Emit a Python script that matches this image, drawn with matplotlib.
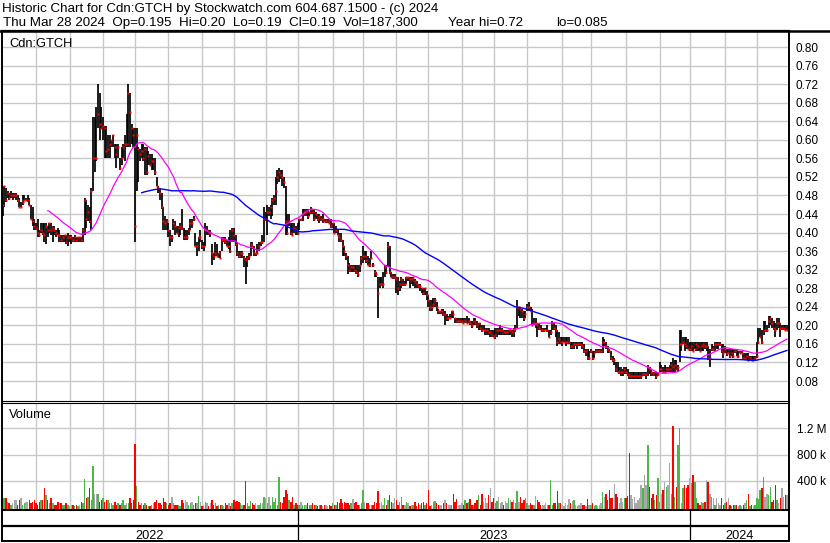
import matplotlib
matplotlib.use('Agg')
import matplotlib.pyplot as plt
from matplotlib.lines import Line2D
import numpy as np
import pandas as pd

plt.rcParams['font.family'] = ['Liberation Sans', 'DejaVu Sans']

# ---- data (one entry per trading bar) ----
title_line1 = 'Historic Chart for Cdn:GTCH by Stockwatch.com 604.687.1500 - (c) 2024'
quote_fields = ['Thu Mar 28 2024  Op=0.195  Hi=0.20  Lo=0.19  Cl=0.19  Vol=187,300',
                'Year hi=0.72', 'lo=0.085']
symbol = 'Cdn:GTCH'

high = [
    # Mar - Aug 2022
    0.465, 0.50, 0.495, 0.49, 0.485, 0.49, 0.485, 0.485, 0.485, 0.48,
    0.475, 0.465, 0.48, 0.48, 0.475, 0.48, 0.475, 0.46, 0.455, 0.43,
    0.42, 0.43, 0.405, 0.42, 0.42, 0.42, 0.42, 0.415, 0.42, 0.42,
    0.415, 0.415, 0.405, 0.41, 0.405, 0.395, 0.395, 0.395, 0.395, 0.40,
    0.395, 0.395, 0.39, 0.395, 0.39, 0.39, 0.39, 0.39, 0.41, 0.475,
    0.47, 0.46, 0.455, 0.495, 0.65, 0.65, 0.67, 0.72, 0.70, 0.67,
    0.65, 0.63, 0.63, 0.61, 0.61, 0.60, 0.61, 0.59, 0.59, 0.59,
    0.56, 0.585, 0.59, 0.61, 0.655, 0.72, 0.70, 0.635, 0.625,
    # Aug - Dec 2022
    0.625, 0.625, 0.585, 0.58, 0.59, 0.59, 0.585, 0.585, 0.575, 0.57,
    0.57, 0.56, 0.56, 0.52, 0.50, 0.495, 0.485, 0.455, 0.435, 0.43,
    0.42, 0.405, 0.395, 0.43, 0.425, 0.415, 0.415, 0.42, 0.45, 0.41,
    0.405, 0.405, 0.41, 0.43, 0.43, 0.435, 0.40, 0.38, 0.39, 0.405,
    0.385, 0.38, 0.42, 0.415, 0.405, 0.405, 0.375, 0.355, 0.38, 0.375,
    0.355, 0.36, 0.39, 0.39, 0.39, 0.385, 0.39, 0.405, 0.41, 0.41,
    0.395, 0.38, 0.36, 0.36, 0.36, 0.35, 0.345, 0.35, 0.355, 0.38,
    0.38, 0.37, 0.355, 0.375, 0.38, 0.38, 0.395, 0.455, 0.445, 0.46,
    # Dec 2022 - Apr 2023
    0.455, 0.46, 0.475, 0.48, 0.52, 0.535, 0.54, 0.535, 0.535, 0.52,
    0.50, 0.44, 0.44, 0.42, 0.42, 0.42, 0.415, 0.42, 0.43, 0.43,
    0.45, 0.45, 0.45, 0.45, 0.445, 0.455, 0.45, 0.45, 0.445, 0.44,
    0.44, 0.435, 0.44, 0.43, 0.43, 0.43, 0.43, 0.43, 0.42, 0.42,
    0.415, 0.405, 0.40, 0.40, 0.385, 0.37, 0.355, 0.35, 0.335, 0.33,
    0.33, 0.33, 0.33, 0.33, 0.33, 0.35, 0.37, 0.36, 0.36, 0.35,
    0.345, 0.36, 0.335, 0.32, 0.315, 0.305, 0.305, 0.305, 0.315, 0.33,
    0.33, 0.38, 0.37, 0.315, 0.31, 0.31, 0.305,
    # Apr - Aug 2023
    0.305, 0.295, 0.305, 0.30, 0.295, 0.305, 0.305, 0.305, 0.305, 0.305,
    0.30, 0.295, 0.29, 0.29, 0.28, 0.28, 0.28, 0.275, 0.265, 0.255,
    0.255, 0.26, 0.26, 0.25, 0.235, 0.23, 0.235, 0.235, 0.23, 0.225,
    0.22, 0.225, 0.23, 0.23, 0.215, 0.215, 0.215, 0.215, 0.215, 0.215,
    0.215, 0.22, 0.215, 0.21, 0.21, 0.215, 0.215, 0.21, 0.205, 0.205,
    0.20, 0.20, 0.195, 0.195, 0.195, 0.19, 0.19, 0.19, 0.195, 0.195,
    0.195, 0.20, 0.195, 0.19, 0.19, 0.19, 0.19, 0.19, 0.19, 0.195,
    0.20, 0.255, 0.24, 0.24, 0.235, 0.23, 0.23,
    # Aug - Dec 2023
    0.245, 0.25, 0.24, 0.235, 0.215, 0.215, 0.205, 0.205, 0.20, 0.195,
    0.195, 0.195, 0.20, 0.19, 0.19, 0.21, 0.205, 0.20, 0.19, 0.185,
    0.175, 0.175, 0.175, 0.175, 0.175, 0.175, 0.165, 0.165, 0.165, 0.165,
    0.165, 0.165, 0.165, 0.165, 0.16, 0.15, 0.15, 0.145, 0.15, 0.145,
    0.145, 0.15, 0.15, 0.15, 0.15, 0.175, 0.17, 0.165, 0.155, 0.15,
    0.145, 0.135, 0.13, 0.12, 0.12, 0.11, 0.11, 0.105, 0.11, 0.11,
    0.105, 0.10, 0.10, 0.10, 0.10, 0.10, 0.10, 0.10, 0.10, 0.10,
    0.10, 0.10, 0.115, 0.11, 0.105, 0.10, 0.10,
    # Dec 2023 - Mar 2024
    0.10, 0.10, 0.12, 0.115, 0.11, 0.115, 0.11, 0.11, 0.115, 0.12,
    0.13, 0.125, 0.125, 0.115, 0.19, 0.19, 0.175, 0.175, 0.175, 0.17,
    0.165, 0.165, 0.165, 0.165, 0.165, 0.165, 0.165, 0.165, 0.165, 0.165,
    0.165, 0.155, 0.15, 0.16, 0.155, 0.165, 0.165, 0.165, 0.165, 0.16,
    0.16, 0.155, 0.15, 0.15, 0.15, 0.15, 0.15, 0.15, 0.15, 0.145,
    0.145, 0.145, 0.14, 0.14, 0.14, 0.14, 0.135, 0.135, 0.135, 0.135,
    0.165, 0.195, 0.195, 0.19, 0.21, 0.21, 0.20, 0.22, 0.22, 0.215,
    0.21, 0.205, 0.215, 0.215, 0.205, 0.20, 0.20, 0.20, 0.20,
]

low = [
    0.435, 0.455, 0.465, 0.475, 0.47, 0.475, 0.47, 0.475, 0.47, 0.465,
    0.455, 0.455, 0.46, 0.47, 0.47, 0.465, 0.46, 0.43, 0.415, 0.405,
    0.405, 0.39, 0.39, 0.40, 0.395, 0.38, 0.375, 0.39, 0.40, 0.395,
    0.38, 0.395, 0.39, 0.395, 0.38, 0.38, 0.38, 0.38, 0.375, 0.37,
    0.38, 0.375, 0.38, 0.38, 0.38, 0.38, 0.38, 0.38, 0.38, 0.395,
    0.41, 0.425, 0.42, 0.405, 0.49, 0.53, 0.555, 0.625, 0.60, 0.625,
    0.60, 0.56, 0.56, 0.56, 0.56, 0.585, 0.585, 0.56, 0.54, 0.56,
    0.535, 0.545, 0.56, 0.555, 0.585, 0.585, 0.585, 0.59, 0.585,

    0.38, 0.49, 0.51, 0.555, 0.56, 0.555, 0.525, 0.525, 0.545, 0.545,
    0.535, 0.535, 0.525, 0.50, 0.485, 0.47, 0.45, 0.405, 0.405, 0.405,
    0.39, 0.37, 0.38, 0.405, 0.395, 0.40, 0.39, 0.395, 0.405, 0.385,
    0.385, 0.385, 0.395, 0.405, 0.41, 0.425, 0.37, 0.35, 0.36, 0.38,
    0.365, 0.36, 0.37, 0.395, 0.395, 0.39, 0.33, 0.34, 0.35, 0.35,
    0.345, 0.345, 0.36, 0.38, 0.375, 0.37, 0.365, 0.355, 0.38, 0.38,
    0.37, 0.35, 0.345, 0.345, 0.345, 0.325, 0.29, 0.325, 0.34, 0.35,
    0.365, 0.35, 0.35, 0.355, 0.36, 0.37, 0.375, 0.38, 0.425, 0.395,

    0.435, 0.43, 0.435, 0.46, 0.46, 0.505, 0.51, 0.515, 0.50, 0.495,
    0.395, 0.395, 0.415, 0.395, 0.395, 0.40, 0.395, 0.395, 0.405, 0.425,
    0.425, 0.435, 0.435, 0.43, 0.435, 0.44, 0.44, 0.425, 0.43, 0.425,
    0.42, 0.425, 0.42, 0.425, 0.42, 0.42, 0.42, 0.41, 0.41, 0.40,
    0.40, 0.395, 0.38, 0.38, 0.35, 0.35, 0.34, 0.31, 0.315, 0.315,
    0.315, 0.315, 0.31, 0.305, 0.315, 0.33, 0.335, 0.34, 0.335, 0.33,
    0.325, 0.345, 0.325, 0.305, 0.305, 0.215, 0.28, 0.285, 0.28, 0.305,
    0.31, 0.325, 0.31, 0.305, 0.30, 0.30, 0.27,

    0.265, 0.275, 0.28, 0.285, 0.285, 0.29, 0.295, 0.28, 0.29, 0.285,
    0.28, 0.28, 0.28, 0.275, 0.27, 0.265, 0.265, 0.255, 0.24, 0.23,
    0.23, 0.24, 0.24, 0.23, 0.225, 0.225, 0.225, 0.22, 0.20, 0.21,
    0.21, 0.215, 0.215, 0.215, 0.205, 0.205, 0.205, 0.205, 0.205, 0.205,
    0.205, 0.205, 0.205, 0.20, 0.195, 0.20, 0.20, 0.195, 0.19, 0.19,
    0.185, 0.19, 0.18, 0.18, 0.18, 0.175, 0.175, 0.175, 0.17, 0.175,
    0.18, 0.18, 0.18, 0.18, 0.18, 0.18, 0.18, 0.18, 0.175, 0.175,
    0.185, 0.195, 0.22, 0.215, 0.215, 0.21, 0.215,

    0.23, 0.23, 0.23, 0.20, 0.20, 0.195, 0.175, 0.19, 0.19, 0.185,
    0.185, 0.19, 0.185, 0.175, 0.18, 0.19, 0.19, 0.175, 0.155, 0.16,
    0.16, 0.155, 0.165, 0.155, 0.16, 0.16, 0.15, 0.15, 0.15, 0.155,
    0.15, 0.155, 0.155, 0.15, 0.14, 0.135, 0.125, 0.125, 0.14, 0.125,
    0.13, 0.14, 0.14, 0.14, 0.14, 0.14, 0.155, 0.15, 0.14, 0.14,
    0.125, 0.12, 0.115, 0.10, 0.10, 0.095, 0.09, 0.09, 0.095, 0.095,
    0.09, 0.085, 0.085, 0.085, 0.085, 0.085, 0.085, 0.085, 0.085, 0.09,
    0.09, 0.085, 0.09, 0.095, 0.09, 0.09, 0.09,

    0.085, 0.09, 0.10, 0.10, 0.10, 0.10, 0.10, 0.10, 0.10, 0.10,
    0.10, 0.10, 0.105, 0.10, 0.12, 0.145, 0.16, 0.145, 0.15, 0.15,
    0.145, 0.145, 0.145, 0.15, 0.145, 0.145, 0.145, 0.145, 0.145, 0.15,
    0.145, 0.125, 0.11, 0.145, 0.145, 0.145, 0.15, 0.15, 0.155, 0.14,
    0.13, 0.14, 0.135, 0.14, 0.13, 0.135, 0.13, 0.14, 0.135, 0.13,
    0.14, 0.14, 0.125, 0.125, 0.125, 0.125, 0.125, 0.125, 0.125, 0.125,
    0.13, 0.16, 0.175, 0.16, 0.18, 0.185, 0.185, 0.195, 0.20, 0.195,
    0.19, 0.175, 0.19, 0.195, 0.175, 0.19, 0.19, 0.19, 0.19,
]

close = [
    0.46, 0.50, 0.47, 0.485, 0.475, 0.48, 0.48, 0.48, 0.48, 0.47,
    0.455, 0.455, 0.465, 0.47, 0.47, 0.47, 0.46, 0.43, 0.425, 0.415,
    0.41, 0.40, 0.395, 0.405, 0.40, 0.395, 0.415, 0.405, 0.42, 0.405,
    0.41, 0.405, 0.40, 0.395, 0.395, 0.385, 0.39, 0.395, 0.38, 0.39,
    0.39, 0.39, 0.385, 0.39, 0.385, 0.39, 0.39, 0.385, 0.405, 0.47,
    0.43, 0.445, 0.425, 0.49, 0.56, 0.56, 0.56, 0.655, 0.635, 0.625,
    0.63, 0.625, 0.575, 0.58, 0.59, 0.60, 0.61, 0.585, 0.57, 0.585,
    0.54, 0.56, 0.585, 0.59, 0.59, 0.70, 0.66, 0.625, 0.61,

    0.415, 0.61, 0.58, 0.57, 0.575, 0.56, 0.58, 0.53, 0.565, 0.545,
    0.555, 0.555, 0.53, 0.50, 0.495, 0.485, 0.455, 0.425, 0.42, 0.425,
    0.405, 0.39, 0.39, 0.42, 0.415, 0.40, 0.41, 0.415, 0.41, 0.39,
    0.39, 0.39, 0.405, 0.42, 0.42, 0.43, 0.37, 0.37, 0.39, 0.39,
    0.37, 0.37, 0.405, 0.405, 0.40, 0.40, 0.355, 0.35, 0.355, 0.35,
    0.355, 0.345, 0.385, 0.385, 0.38, 0.37, 0.37, 0.36, 0.405, 0.395,
    0.375, 0.355, 0.35, 0.355, 0.355, 0.345, 0.34, 0.345, 0.35, 0.375,
    0.37, 0.355, 0.355, 0.355, 0.37, 0.38, 0.38, 0.43, 0.43, 0.445,

    0.445, 0.455, 0.47, 0.475, 0.49, 0.52, 0.53, 0.525, 0.52, 0.51,
    0.425, 0.40, 0.425, 0.40, 0.395, 0.41, 0.405, 0.40, 0.43, 0.43,
    0.44, 0.445, 0.445, 0.435, 0.445, 0.45, 0.445, 0.43, 0.44, 0.43,
    0.435, 0.43, 0.43, 0.425, 0.425, 0.425, 0.42, 0.415, 0.42, 0.40,
    0.405, 0.395, 0.39, 0.385, 0.37, 0.36, 0.35, 0.33, 0.32, 0.325,
    0.325, 0.32, 0.315, 0.31, 0.33, 0.345, 0.35, 0.35, 0.34, 0.33,
    0.33, 0.345, 0.33, 0.315, 0.31, 0.27, 0.29, 0.29, 0.29, 0.325,
    0.315, 0.37, 0.315, 0.305, 0.305, 0.305, 0.30,

    0.28, 0.29, 0.30, 0.29, 0.29, 0.305, 0.305, 0.30, 0.30, 0.305,
    0.295, 0.29, 0.285, 0.285, 0.28, 0.27, 0.28, 0.265, 0.255, 0.24,
    0.24, 0.245, 0.255, 0.24, 0.23, 0.23, 0.23, 0.225, 0.225, 0.215,
    0.215, 0.215, 0.23, 0.225, 0.215, 0.21, 0.21, 0.21, 0.21, 0.205,
    0.21, 0.205, 0.21, 0.205, 0.20, 0.21, 0.205, 0.20, 0.205, 0.195,
    0.19, 0.19, 0.19, 0.19, 0.185, 0.185, 0.18, 0.175, 0.18, 0.19,
    0.19, 0.19, 0.19, 0.185, 0.185, 0.185, 0.19, 0.19, 0.185, 0.19,
    0.195, 0.24, 0.24, 0.235, 0.23, 0.215, 0.225,

    0.24, 0.24, 0.23, 0.20, 0.205, 0.205, 0.20, 0.195, 0.19, 0.19,
    0.19, 0.19, 0.19, 0.175, 0.185, 0.205, 0.195, 0.19, 0.165, 0.17,
    0.165, 0.165, 0.165, 0.165, 0.165, 0.165, 0.155, 0.155, 0.16, 0.16,
    0.16, 0.16, 0.16, 0.155, 0.145, 0.145, 0.13, 0.13, 0.145, 0.13,
    0.14, 0.145, 0.145, 0.145, 0.145, 0.165, 0.165, 0.155, 0.15, 0.145,
    0.13, 0.125, 0.125, 0.105, 0.10, 0.10, 0.10, 0.10, 0.105, 0.10,
    0.095, 0.09, 0.09, 0.09, 0.09, 0.09, 0.09, 0.09, 0.09, 0.095,
    0.095, 0.095, 0.11, 0.105, 0.10, 0.095, 0.10,

    0.09, 0.095, 0.105, 0.105, 0.10, 0.10, 0.105, 0.105, 0.105, 0.115,
    0.11, 0.115, 0.105, 0.11, 0.16, 0.16, 0.165, 0.16, 0.155, 0.15,
    0.15, 0.155, 0.145, 0.15, 0.16, 0.155, 0.145, 0.155, 0.16, 0.155,
    0.155, 0.13, 0.13, 0.15, 0.15, 0.16, 0.16, 0.16, 0.16, 0.145,
    0.14, 0.15, 0.14, 0.14, 0.135, 0.14, 0.135, 0.145, 0.135, 0.135,
    0.14, 0.14, 0.13, 0.13, 0.135, 0.125, 0.13, 0.125, 0.125, 0.13,
    0.135, 0.165, 0.175, 0.165, 0.19, 0.19, 0.19, 0.21, 0.215, 0.205,
    0.195, 0.19, 0.205, 0.205, 0.195, 0.195, 0.195, 0.19, 0.19,
]

# daily volume, thousands of shares
volume_k = [
    155, 130, 130, 79, 54, 28, 54, 104, 104, 28,
    104, 130, 28, 54, 79, 79, 104, 54, 79, 104,
    54, 28, 79, 104, 104, 283, 181, 104, 54, 130,
    54, 28, 28, 79, 54, 54, 28, 28, 54, 28,
    18, 28, 28, 18, 28, 18, 28, 79, 54, 425,
    130, 155, 283, 104, 629, 206, 206, 206, 79, 104,
    130, 79, 104, 104, 54, 54, 28, 79, 28, 54,
    28, 54, 104, 28, 54, 54, 130, 54, 104,

    955, 324, 79, 28, 54, 28, 54, 28, 18, 18,
    28, 54, 79, 104, 54, 54, 38, 130, 79, 54,
    28, 54, 155, 54, 28, 28, 28, 18, 104, 54,
    104, 79, 28, 54, 79, 28, 54, 54, 171, 79,
    18, 28, 79, 54, 18, 54, 104, 28, 54, 18,
    38, 28, 38, 18, 54, 28, 54, 18, 54, 104,
    79, 89, 79, 54, 28, 38, 395, 54, 18, 89,
    54, 28, 54, 28, 28, 54, 54, 155, 130, 54,

    155, 38, 155, 79, 130, 28, 451, 79, 54, 155,
    257, 206, 104, 79, 155, 28, 54, 28, 28, 79,
    38, 28, 28, 54, 38, 28, 54, 38, 28, 18,
    28, 38, 18, 28, 28, 18, 28, 18, 54, 38,
    28, 79, 54, 120, 54, 79, 54, 54, 28, 54,
    120, 54, 79, 28, 38, 54, 257, 79, 54, 54,
    38, 28, 38, 79, 54, 242, 54, 79, 28, 130,
    38, 104, 181, 79, 54, 130, 104,

    28, 79, 155, 38, 28, 79, 54, 18, 38, 28,
    79, 18, 54, 38, 54, 69, 28, 54, 257, 18,
    28, 79, 89, 54, 38, 28, 28, 54, 104, 54,
    28, 38, 28, 206, 69, 120, 28, 38, 54, 28,
    104, 54, 79, 120, 38, 28, 54, 104, 181, 28,
    206, 79, 130, 54, 181, 293, 79, 130, 54, 89,
    155, 54, 79, 28, 89, 54, 130, 104, 79, 104,
    54, 242, 79, 155, 54, 104, 140,

    54, 28, 54, 28, 38, 171, 104, 79, 28, 38,
    28, 54, 28, 28, 410, 28, 54, 54, 242, 54,
    54, 28, 18, 54, 28, 120, 54, 89, 104, 28,
    18, 28, 54, 28, 38, 18, 120, 38, 28, 54,
    18, 28, 18, 28, 54, 232, 155, 206, 104, 257,
    130, 140, 344, 206, 155, 54, 130, 79, 130, 130,
    171, 828, 181, 120, 155, 54, 104, 140, 334, 283,
    487, 334, 945, 308, 130, 206, 104,

    181, 436, 79, 206, 257, 385, 308, 334, 665, 206,
    1236, 155, 308, 945, 1200, 54, 283, 334, 283, 334,
    436, 359, 487, 385, 130, 54, 28, 79, 54, 69,
    420, 385, 206, 155, 130, 28, 130, 54, 28, 140,
    28, 54, 79, 140, 28, 18, 28, 28, 38, 18,
    38, 18, 28, 54, 104, 206, 18, 38, 18, 28,
    140, 120, 257, 283, 461, 155, 206, 181, 308, 79,
    104, 334, 104, 54, 130, 283, 155, 181, 187.3,
]

# first bar of each month (May 2022 ... Mar 2024)
month_start_bar = [20, 40, 60, 79, 99, 119, 138, 157, 176, 197, 215, 235,
                   254, 274, 293, 313, 334, 351, 372, 392, 410, 431, 450]
year_start_bar = [176, 410]
year_labels = ['2022', '2023', '2024']

price_ticks = [0.08, 0.12, 0.16, 0.20, 0.24, 0.28, 0.32, 0.36, 0.40, 0.44,
               0.48, 0.52, 0.56, 0.60, 0.64, 0.68, 0.72, 0.76, 0.80]
vol_ticks = [400e3, 800e3, 1.2e6]
vol_tick_labels = ['400 k', '800 k', '1.2 M']

ma_short, ma_long = 28, 84

# ---- derived ----
high = np.array(high)
low = np.array(low)
close = np.array(close)
volume = np.array(volume_k) * 1000
x = np.arange(len(close))
ma1 = pd.Series(close).rolling(ma_short).mean()
ma2 = pd.Series(close).rolling(ma_long).mean()
chg = np.diff(close, prepend=close[0])
vol_colors = np.where(chg > 0, '#4cb84c', np.where(chg < 0, '#ff0000', '#a8a8a8'))

# ---- layout in pixels ----
W, H = 830, 543


def fx(px):
    return px / W


def fy(py):
    return 1 - py / H


grid_c = '#c8c8c8'
fig = plt.figure(figsize=(8.3, 5.43), dpi=100)

fig.text(fx(2), fy(11.8), title_line1, fontsize=9.6, va='baseline', ha='left')
# quote line: main fields, then the year range in wider columns
quote_x = [3, 448, 556]
for qx, field in zip(quote_x, quote_fields):
    fig.text(fx(qx), fy(25.6), field, fontsize=9.6, va='baseline', ha='left')
fig.add_artist(Line2D([0, 1], [fy(30.5), fy(30.5)], color='black', lw=1.8))

left, right = 1.5, 789
xlim = (-0.6, 469.2)

# price panel
ax = fig.add_axes([fx(left), fy(400.5), fx(right) - fx(left), fy(31) - fy(400.5)])
ax.set_xlim(*xlim)
ax.set_ylim(0.038, 0.8345)
ax.set_xticks(month_start_bar)
ax.set_yticks(price_ticks)
ax.set_yticklabels(['%.2f' % t for t in price_ticks])
ax.tick_params(axis='x', length=0, labelbottom=False)
ax.tick_params(axis='y', length=0, labelleft=False, labelright=True, pad=5, labelsize=8.5)
ax.grid(True, color=grid_c, lw=1.0)
ax.set_axisbelow(True)
ax.vlines(x, low, high, color='black', lw=1.25)
ax.plot(x, close, ls='none', marker='s', ms=1.6, color='red', mec='none')
ax.plot(x, ma1, color='#ff00ff', lw=0.9)
ax.plot(x, ma2, color='#0000ff', lw=1.0)
for s in ['left', 'right']:
    ax.spines[s].set_linewidth(1.4)
ax.spines['top'].set_linewidth(1.6)
ax.spines['bottom'].set_linewidth(0.8)
fig.text(fx(9), fy(46.5), symbol, fontsize=9.3, va='baseline', ha='left')

# volume panel
vlo = -38e3
axv = fig.add_axes([fx(left), fy(509.5), fx(right) - fx(left), fy(403) - fy(509.5)])
axv.set_xlim(*xlim)
axv.set_ylim(vlo, 1.588e6)
axv.set_xticks(month_start_bar)
axv.set_yticks(vol_ticks)
axv.set_yticklabels(vol_tick_labels)
axv.tick_params(axis='x', length=0, labelbottom=False)
axv.tick_params(axis='y', length=0, labelleft=False, labelright=True, pad=6, labelsize=8.5)
axv.grid(True, color=grid_c, lw=1.0)
axv.set_axisbelow(True)
axv.bar(x, volume - vlo, bottom=vlo, width=0.85, color=vol_colors, lw=0)
for s in ['left', 'right']:
    axv.spines[s].set_linewidth(1.4)
axv.spines['top'].set_linewidth(0.8)
axv.spines['bottom'].set_visible(False)
fig.text(fx(9), fy(418.3), 'Volume', fontsize=9.3, va='baseline', ha='left')

# date band
axb = fig.add_axes([fx(left), fy(541), fx(right) - fx(left), fy(510) - fy(541)])
axb.set_xlim(*xlim)
axb.set_ylim(0, 1)
axb.set_xticks([])
axb.set_yticks([])
axb.axhline(0.5, color='black', lw=1.6)
axb.vlines(year_start_bar, 0, 1, color='black', lw=0.9)
edges = [xlim[0]] + year_start_bar + [xlim[1]]
for i, lab in enumerate(year_labels):
    axb.text((edges[i] + edges[i + 1]) / 2, 0.06, lab, ha='center', va='baseline', fontsize=9.2)
for s in ['left', 'right']:
    axb.spines[s].set_linewidth(1.4)
axb.spines['top'].set_linewidth(1.4)
axb.spines['bottom'].set_linewidth(1.4)

fig.savefig('out.png', dpi=100)
